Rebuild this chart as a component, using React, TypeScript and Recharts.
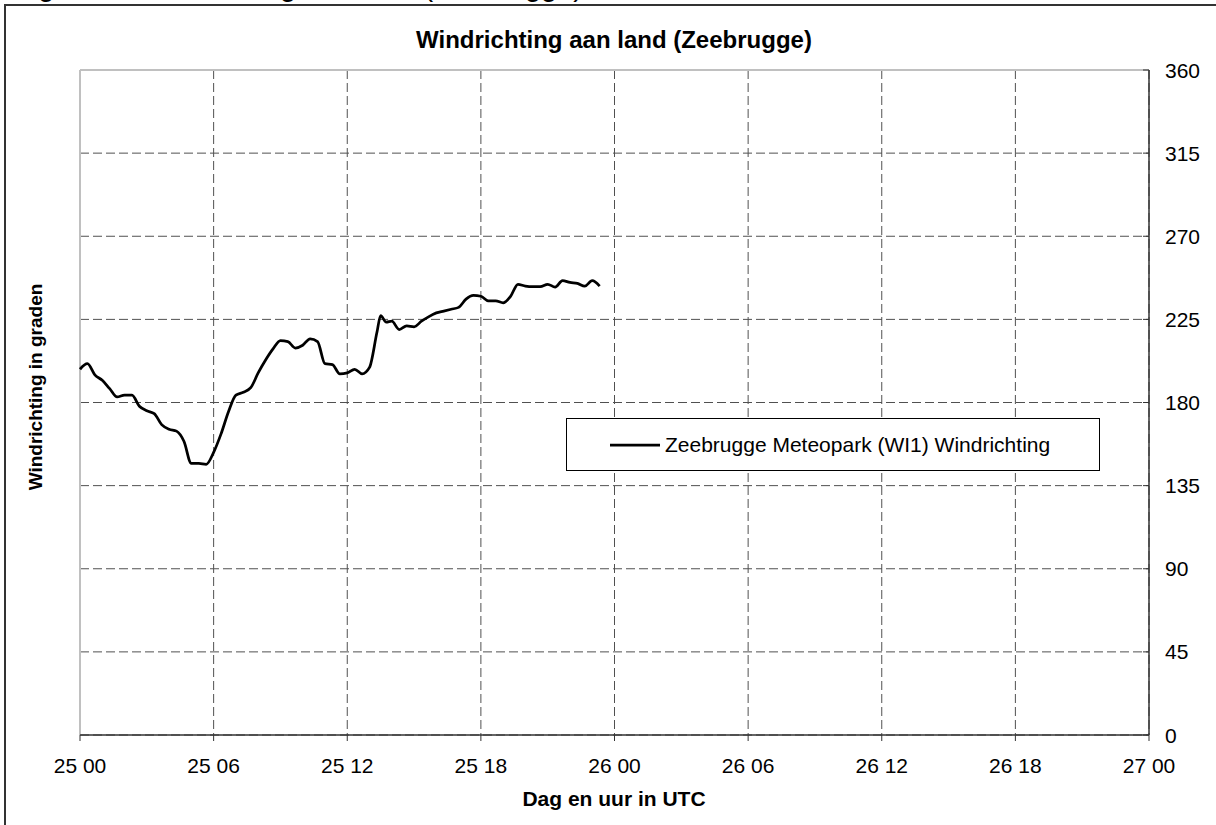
import React from 'react';
import { LineChart, Line, XAxis, YAxis, CartesianGrid, ReferenceLine, Legend } from 'recharts';

const FONT = '"Liberation Sans", Arial, Helvetica, sans-serif';

// minutes since 25 00 UTC
const timeMinutes = [
  0, 20, 40, 60, 80, 100, 120, 140, 160, 180, 200, 220, 240, 260, 280, 300, 320, 340,
  360, 380, 400, 420, 440, 460, 480, 500, 520, 540, 560, 580, 600, 620, 640, 660, 680,
  700, 720, 740, 760, 780, 800, 810, 825, 840, 860, 880, 900, 920, 940, 960, 980, 1000,
  1020, 1040, 1060, 1080, 1100, 1120, 1140, 1160, 1180, 1200, 1220, 1240, 1260, 1280,
  1300, 1320, 1340, 1360, 1380, 1400,
];

// wind direction in degrees
const windDirection = [
  198, 201, 195, 192, 187.5, 183, 184, 184, 178, 175.5, 174, 168, 165.5, 164.5, 159, 147, 147, 146.5,
  153, 163, 175, 184, 185.5, 188, 196, 203, 209, 213.5, 213, 209.5, 211, 214.5, 213, 201, 200.5,
  195.5, 196, 198, 195.5, 199, 218, 227, 223.5, 224, 219.5, 221.5, 221, 224, 226.5, 228.5, 229.5, 230.5,
  231.5, 236, 238, 237.5, 235, 235, 234, 237.5, 244, 243, 242.7, 242.7, 244, 242.5,
  246, 245, 244.5, 243, 246, 243,
];

const xTicks = [0, 360, 720, 1080, 1440, 1800, 2160, 2520, 2880];
const xTickLabels = ['25 00', '25 06', '25 12', '25 18', '26 00', '26 06', '26 12', '26 18', '27 00'];
const yTicks = [0, 45, 90, 135, 180, 225, 270, 315, 360];

const seriesName = 'Zeebrugge Meteopark (WI1) Windrichting';
const chartTitle = 'Windrichting aan land (Zeebrugge)';
const yAxisTitle = 'Windrichting in graden';
const xAxisTitle = 'Dag en uur in UTC';
const captionText = 'Figuur 8: Windrichting aan land (Zeebrugge)';

const data = timeMinutes.map((t, i) => ({ t, dir: windDirection[i] }));

const RightTick = (props: any) => {
  const { x, y, payload } = props;
  return (
    <g>
      <line x1={x - 6} y1={y} x2={x} y2={y} stroke="#333" strokeWidth={1} />
      <text x={x + 16} y={y} dy="0.36em" fontSize={21} fill="#000" fontFamily={FONT} textAnchor="start">
        {payload.value}
      </text>
    </g>
  );
};

const LegendBox = (props: any) => {
  const item = props.payload && props.payload[0];
  return (
    <div
      style={{
        width: 534,
        height: 53,
        boxSizing: 'border-box',
        border: '1px solid #000',
        background: '#fff',
        display: 'flex',
        alignItems: 'center',
        fontFamily: FONT,
        fontSize: 21,
        color: '#000',
      }}
    >
      <svg width={50} height={10} style={{ marginLeft: 43, display: 'block' }}>
        <line x1={0} y1={5} x2={50} y2={5} stroke={item ? item.color : '#000'} strokeWidth={2.75} />
      </svg>
      <span style={{ marginLeft: 5, whiteSpace: 'nowrap' }}>{item ? item.value : seriesName}</span>
    </div>
  );
};

export default function App() {
  return (
    <div
      style={{
        position: 'fixed',
        left: 0,
        top: 0,
        width: 1216,
        height: 825,
        overflow: 'hidden',
        background: '#fff',
      }}
    >
      <div
        style={{
          position: 'absolute',
          left: 4,
          top: 4,
          width: 1260,
          height: 860,
          border: '2px solid #333',
          boxSizing: 'border-box',
        }}
      />
      <div style={{ position: 'absolute', left: 0, top: 0 }}>
        <LineChart
          width={1216}
          height={825}
          data={data}
          margin={{ top: 70, right: 7, left: 80, bottom: 60 }}
        >
          <CartesianGrid stroke="#505050" strokeDasharray="9 4" strokeWidth={1} />
          <ReferenceLine y={360} stroke="#c0c0c0" strokeWidth={2} />
          <ReferenceLine x={0} stroke="#c0c0c0" strokeWidth={2} />
          <XAxis
            dataKey="t"
            type="number"
            domain={[0, 2880]}
            ticks={xTicks}
            interval={0}
            height={30}
            tickSize={6}
            tickMargin={17}
            stroke="#333"
            axisLine={{ stroke: '#333', strokeWidth: 1.5 }}
            tickLine={{ stroke: '#333' }}
            tick={{ fontSize: 21, fill: '#000', fontFamily: FONT }}
            tickFormatter={(v: number) => xTickLabels[xTicks.indexOf(v)]}
          />
          <YAxis
            orientation="right"
            type="number"
            domain={[0, 360]}
            ticks={yTicks}
            interval={0}
            width={60}
            tickSize={0}
            tickMargin={0}
            tickLine={false}
            axisLine={{ stroke: '#333', strokeWidth: 1.5 }}
            tick={<RightTick />}
          />
          <Legend
            layout="horizontal"
            verticalAlign="middle"
            align="center"
            wrapperStyle={{ position: 'absolute', left: 566, top: 418, width: 534, height: 53 }}
            content={<LegendBox />}
          />
          <Line
            type="monotone"
            dataKey="dir"
            name={seriesName}
            stroke="#000"
            strokeWidth={2.75}
            dot={false}
            isAnimationActive={false}
          />
        </LineChart>
      </div>
      <svg
        width={1216}
        height={825}
        style={{ position: 'absolute', left: 0, top: 0, pointerEvents: 'none' }}
      >
        <text x={14} y={-4} fontSize={29} fontFamily={FONT} fill="#000">
          {captionText}
        </text>
        <text x={614} y={48} fontSize={24} fontWeight="bold" fontFamily={FONT} textAnchor="middle" fill="#000">
          {chartTitle}
        </text>
        <text
          x={0}
          y={0}
          transform="translate(42 387) rotate(-90)"
          fontSize={19}
          fontWeight="bold"
          fontFamily={FONT}
          textAnchor="middle"
          fill="#000"
        >
          {yAxisTitle}
        </text>
        <text x={614} y={806} fontSize={21} fontWeight="bold" fontFamily={FONT} textAnchor="middle" fill="#000">
          {xAxisTitle}
        </text>
      </svg>
    </div>
  );
}
